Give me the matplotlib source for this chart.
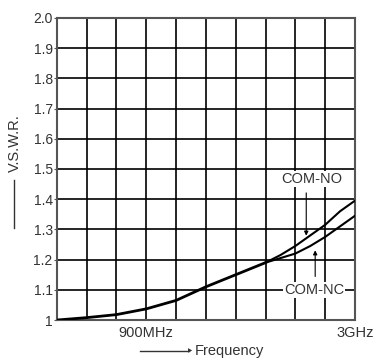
import matplotlib.pyplot as plt

plt.rcParams['font.family'] = ['Liberation Sans', 'DejaVu Sans']

# frequency in GHz, V.S.W.R. values
freq_common = [0.0, 0.3, 0.6, 0.9, 1.2, 1.5, 1.8, 2.1]
vswr_common = [1.0, 1.008, 1.018, 1.037, 1.065, 1.11, 1.15, 1.19]
freq_split = [2.1, 2.25, 2.4, 2.55, 2.7, 2.85, 3.0]
com_no = [1.19, 1.215, 1.245, 1.28, 1.315, 1.36, 1.395]
com_nc = [1.19, 1.205, 1.22, 1.245, 1.275, 1.31, 1.345]

y_ticks = [1.0, 1.1, 1.2, 1.3, 1.4, 1.5, 1.6, 1.7, 1.8, 1.9, 2.0]
y_labels = ['1', '1.1', '1.2', '1.3', '1.4', '1.5', '1.6', '1.7', '1.8', '1.9', '2.0']
x_ticks = [0.9, 3.0]
x_labels = ['900MHz', '3GHz']

fig = plt.figure(figsize=(3.74, 3.58), dpi=100)
ax = fig.add_axes([0.152, 0.106, 0.797, 0.844])

ax.set_xlim(0, 3)
ax.set_ylim(1.0, 2.0)

# grid
for i in range(1, 10):
    ax.axvline(i * 0.3, color='black', lw=1.2, zorder=1)
for v in y_ticks[1:-1]:
    ax.axhline(v, color='black', lw=1.2, zorder=1)

ax.plot(freq_common, vswr_common, color='black', lw=2.0, zorder=3)
ax.plot(freq_split, com_no, color='black', lw=1.5, zorder=3)
ax.plot(freq_split, com_nc, color='black', lw=1.5, zorder=3)

for s in ax.spines.values():
    s.set_color('#555555')
    s.set_linewidth(1.5)

ax.set_yticks(y_ticks)
ax.set_yticklabels(y_labels)
ax.set_xticks(x_ticks)
ax.set_xticklabels(x_labels)
ax.tick_params(axis='y', length=2, width=0.8, color='#555555', labelsize=10, labelcolor='#333333', pad=1)
ax.tick_params(axis='x', length=0, labelsize=10.5, labelcolor='#333333', pad=4)

# labels with arrows
ax.text(2.57, 1.467, 'COM-NO', ha='center', va='center', fontsize=10.5, color='#333333',
        bbox=dict(facecolor='white', edgecolor='none', pad=0.5), zorder=4)
ax.annotate('', xy=(2.51, 1.27), xytext=(2.51, 1.43),
            arrowprops=dict(arrowstyle='-|>', color='black', lw=0.8, mutation_scale=6), zorder=4)
ax.text(2.59, 1.10, 'COM-NC', ha='center', va='center', fontsize=10.5, color='#333333',
        bbox=dict(facecolor='white', edgecolor='none', pad=0.5), zorder=4)
ax.annotate('', xy=(2.60, 1.24), xytext=(2.60, 1.135),
            arrowprops=dict(arrowstyle='-|>', color='black', lw=0.8, mutation_scale=6), zorder=4)

# axis titles
fig.text(0.040, 0.60, 'V.S.W.R.', rotation=90, ha='center', va='center', fontsize=10.5, color='#333333')
fig.add_artist(plt.Line2D([0.038, 0.038], [0.363, 0.497], color='#333333', lw=1.0))
fig.text(0.522, 0.02, 'Frequency', ha='left', va='center', fontsize=10.5, color='#333333')
fig.add_artist(plt.Line2D([0.375, 0.505], [0.02, 0.02], color='#333333', lw=1.0))
fig.text(0.508, 0.02, '\u25b6', ha='center', va='center', fontsize=4, color='#333333')

fig.savefig('out.png', dpi=100)
